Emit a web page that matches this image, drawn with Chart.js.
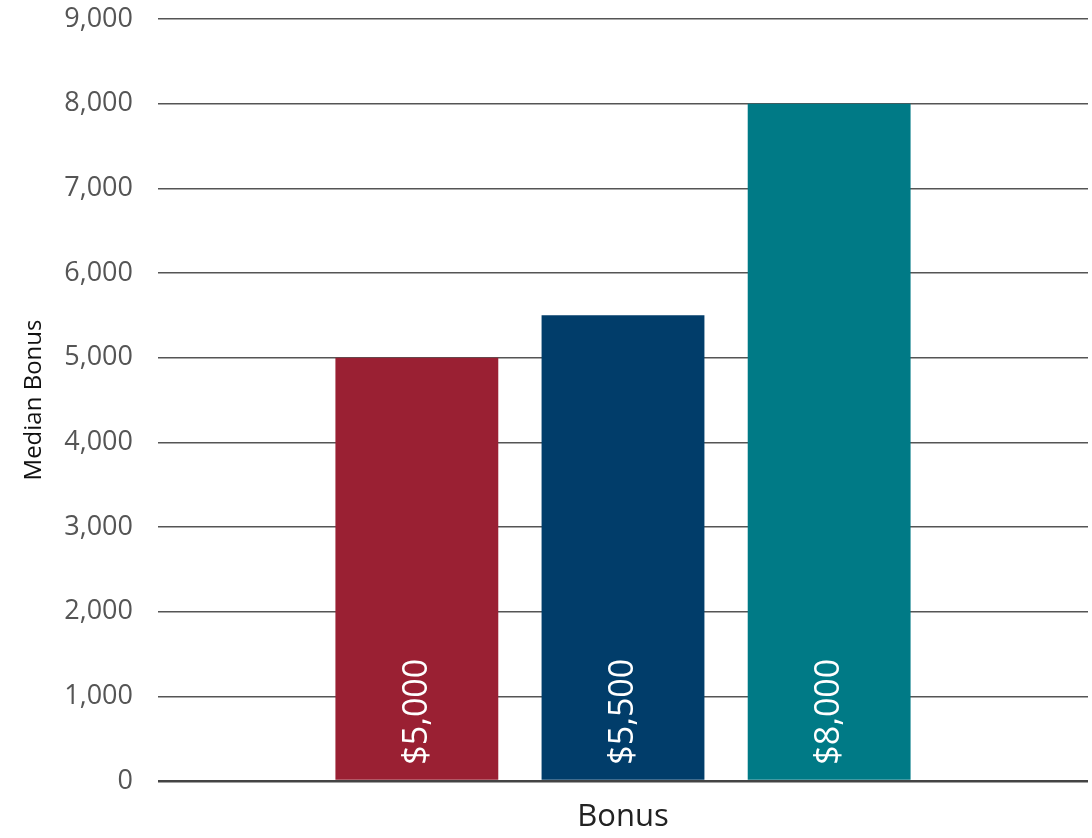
<!DOCTYPE html>
<html>
<head>
<meta charset="utf-8">
<script src="https://cdn.jsdelivr.net/npm/chart.js@4/dist/chart.umd.min.js"></script>
<style>
html,body{margin:0;padding:0;background:#fff;}
#wrap{width:1092px;height:838px;}
</style>
</head>
<body>
<div id="wrap"><canvas id="c" width="1092" height="838"></canvas></div>
<script>
const categories = ['Bonus'];
const seriesNames = ['A', 'B', 'C'];
const seriesValues = [[5000], [5500], [8000]];
const valueLabels = ['$5,000', '$5,500', '$8,000'];
const yTicks = [0, 1000, 2000, 3000, 4000, 5000, 6000, 7000, 8000, 9000];
const colors = ['#9A2033', '#013D6A', '#007A86'];

const FONT = "'Open Sans', 'Noto Sans', 'Liberation Sans', sans-serif";

const barLabels = {
  id: 'barLabels',
  afterDatasetsDraw(chart) {
    const ctx = chart.ctx;
    chart.data.datasets.forEach((ds, i) => {
      const meta = chart.getDatasetMeta(i);
      meta.data.forEach((bar) => {
        ctx.save();
        ctx.translate(bar.x, bar.base - 15);
        ctx.rotate(-Math.PI / 2);
        ctx.fillStyle = '#ffffff';
        ctx.font = "400 34px " + FONT;
        ctx.textAlign = 'left';
        ctx.textBaseline = 'middle';
        ctx.fillText(valueLabels[i], 0, 0);
        ctx.restore();
      });
    });
  }
};

new Chart(document.getElementById('c'), {
  type: 'bar',
  data: {
    labels: categories,
    datasets: seriesNames.map((n, i) => ({
      label: n,
      data: seriesValues[i],
      backgroundColor: colors[i],
      borderWidth: 0,
      categoryPercentage: 0.665,
      barPercentage: 0.79
    }))
  },
  options: {
    responsive: false,
    animation: false,
    devicePixelRatio: 1,
    layout: { padding: { left: 0, right: 4, top: 19, bottom: 0 } },
    plugins: { legend: { display: false }, tooltip: { enabled: false } },
    scales: {
      x: {
        grid: { display: false, drawTicks: false },
        border: { display: false },
        ticks: { color: '#222', font: { family: FONT, size: 31, weight: '400' }, padding: 18 },
        afterFit(s) { s.height = 57; s.paddingTop = 0; }
      },
      y: {
        min: 0, max: 9000,
        afterBuildTicks(s) { s.ticks = yTicks.map(v => ({ value: v })); },
        grid: {
          color: (c) => c.tick && c.tick.value === 0 ? '#444' : '#555',
          lineWidth: (c) => c.tick && c.tick.value === 0 ? 2.5 : 1.6,
          drawTicks: false
        },
        border: { display: false },
        ticks: {
          color: '#555',
          padding: 25,
          font: { family: FONT, size: 27, weight: '400' },
          callback: (v) => v.toLocaleString('en-US')
        },
        title: {
          display: true,
          text: 'Median Bonus',
          color: '#111',
          font: { family: FONT, size: 24, weight: '400' },
          padding: { top: 20, bottom: 0 }
        },
        afterFit(s) { s.width = 158; s.paddingTop = 0; s.paddingBottom = 0; }
      }
    }
  },
  plugins: [barLabels]
});
</script>
</body>
</html>
